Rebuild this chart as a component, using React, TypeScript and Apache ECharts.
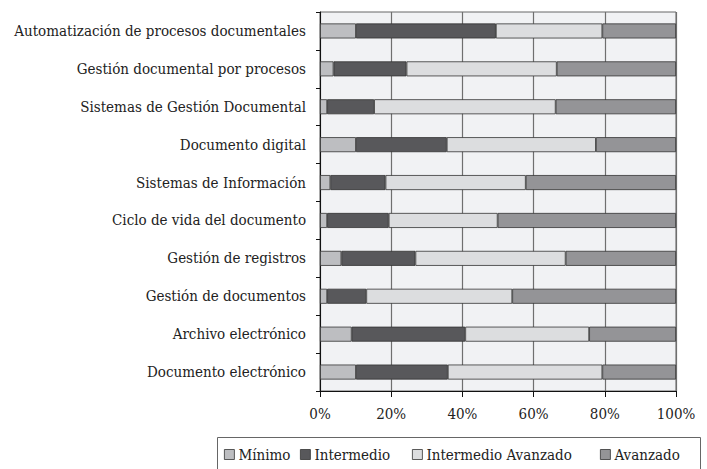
import React, { useEffect, useRef } from "react";
import * as echarts from "echarts";

const categories = [
  "Automatización de procesos documentales",
  "Gestión documental por procesos",
  "Sistemas de Gestión Documental",
  "Documento digital",
  "Sistemas de Información",
  "Ciclo de vida del documento",
  "Gestión de registros",
  "Gestión de documentos",
  "Archivo electrónico",
  "Documento electrónico",
];

const seriesNames = ["Mínimo", "Intermedio", "Intermedio Avanzado", "Avanzado"];

const minimo = [10.1, 3.8, 2.0, 10.1, 2.9, 2.0, 6.0, 2.0, 8.9, 10.1];
const intermedio = [39.3, 20.5, 13.2, 25.5, 15.5, 17.3, 20.8, 11.0, 31.9, 25.8];
const intermedioAvanzado = [29.9, 42.2, 51.0, 41.9, 39.4, 30.6, 42.2, 41.0, 34.8, 43.4];
const avanzado = [20.7, 33.5, 33.8, 22.5, 42.2, 50.1, 31.0, 46.0, 24.4, 20.7];

const xTicks = [0, 20, 40, 60, 80, 100];

const colors = ["#bdbec1", "#58585b", "#dcdddf", "#949497"];
const FONT = "DejaVu Serif Condensed";

export default function App() {
  const ref = useRef<HTMLDivElement>(null);
  useEffect(() => {
    if (!ref.current) return;
    const chart = echarts.init(ref.current, null, { renderer: "svg" });
    const values = [minimo, intermedio, intermedioAvanzado, avanzado];
    const legendLefts = [224, 300, 412, 600];
    chart.setOption({
      animation: false,
      textStyle: { fontFamily: FONT },
      grid: {
        left: 320,
        right: 31,
        top: 12,
        bottom: 78,
        outerBoundsMode: "none",
        containLabel: false,
        show: true,
        backgroundColor: "#f1f2f4",
        borderColor: "#666",
        borderWidth: 1,
      },
      graphic: [
        {
          type: "rect",
          shape: { x: 217.5, y: 437.5, width: 483, height: 40 },
          style: { fill: "#fff", stroke: "#666", lineWidth: 1 },
          z: -1,
        },
      ],
      legend: seriesNames.map((n, i) => ({
        data: [n],
        left: legendLefts[i],
        top: 447,
        padding: 0,
        itemWidth: 10,
        itemHeight: 10,
        itemGap: 0,
        icon: "rect",
        selectedMode: false,
        textStyle: { fontFamily: FONT, fontSize: 15, color: "#222", padding: [0, 0, 0, -1] },
        itemStyle: { borderColor: "#333", borderWidth: 0.8 },
      })),
      xAxis: {
        type: "value",
        min: xTicks[0],
        max: xTicks[xTicks.length - 1],
        interval: 20,
        axisLine: { show: true, lineStyle: { color: "#111", width: 1 } },
        axisTick: { show: true, length: 6, lineStyle: { color: "#111" } },
        axisLabel: {
          formatter: "{value}%",
          fontFamily: FONT,
          fontSize: 15,
          color: "#222",
          margin: 15,
        },
        splitLine: { show: true, lineStyle: { color: "#6f6f6f", width: 1.2 } },
      },
      yAxis: {
        type: "category",
        data: categories,
        inverse: true,
        axisLine: { show: true, lineStyle: { color: "#111", width: 1 } },
        axisTick: { show: true, length: 4, lineStyle: { color: "#111" } },
        axisLabel: {
          fontFamily: FONT,
          fontSize: 15,
          color: "#222",
          margin: 14,
        },
        splitLine: { show: false },
      },
      series: seriesNames.map((n, i) => ({
        name: n,
        type: "bar",
        stack: "total",
        barWidth: 15,
        data: values[i],
        itemStyle: { color: colors[i], borderColor: "#333", borderWidth: 0.8 },
      })),
    });
    return () => chart.dispose();
  }, []);
  return <div ref={ref} style={{ width: 707, height: 469, position: "absolute", left: 0, top: 0 }} />;
}
